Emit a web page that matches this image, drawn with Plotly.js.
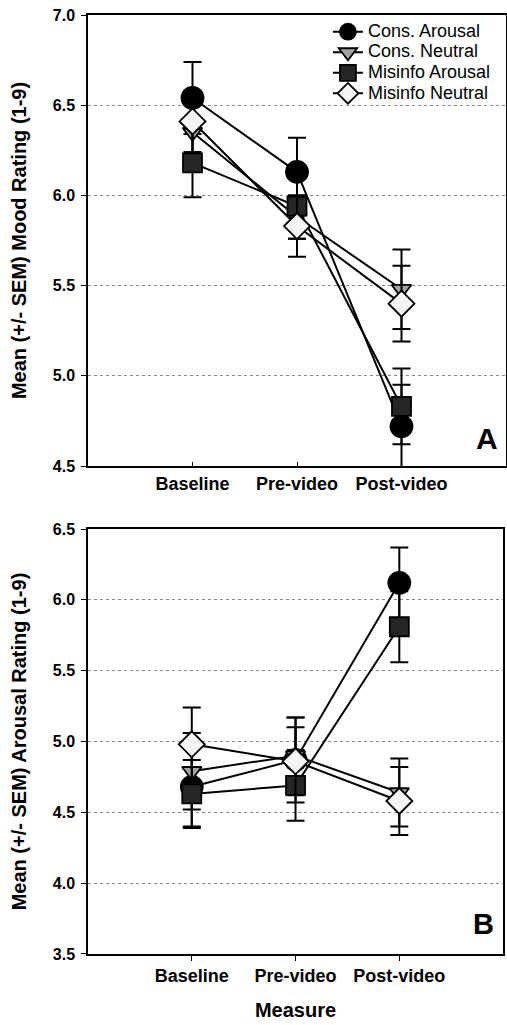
<!DOCTYPE html>
<html><head><meta charset="utf-8">
<script src="https://cdn.plot.ly/plotly-3.0.1.min.js"></script>
<style>html,body{margin:0;padding:0;background:#fff}#chart{width:507px;height:1025px}</style>
</head><body><div id="chart"></div><script>
// ---- data ----
const measures = ["Baseline", "Pre-video", "Post-video"];
const seriesNames = ["Cons. Arousal", "Cons. Neutral", "Misinfo Arousal", "Misinfo Neutral"];

// Panel A: mood rating
const moodConsArousal = [6.54, 6.13, 4.72];
const moodConsArousalSem = [0.20, 0.19, 0.23];
const moodConsNeutral = [6.35, 5.88, 5.48];
const moodConsNeutralSem = [0.18, 0.12, 0.22];
const moodMisArousal = [6.18, 5.94, 4.83];
const moodMisArousalSem = [0.19, 0.18, 0.21];
const moodMisNeutral = [6.41, 5.83, 5.40];
const moodMisNeutralSem = [0.17, 0.17, 0.21];

// Panel B: arousal rating
const arConsArousal = [4.68, 4.87, 6.12];
const arConsArousalSem = [0.28, 0.30, 0.25];
const arConsNeutral = [4.79, 4.90, 4.64];
const arConsNeutralSem = [0.27, 0.27, 0.24];
const arMisArousal = [4.63, 4.69, 5.81];
const arMisArousalSem = [0.24, 0.25, 0.25];
const arMisNeutral = [4.98, 4.86, 4.58];
const arMisNeutralSem = [0.26, 0.24, 0.24];

const moodTickVals = [4.5, 5.0, 5.5, 6.0, 6.5, 7.0];
const arousalTickVals = [3.5, 4.0, 4.5, 5.0, 5.5, 6.0, 6.5];

// ---- styles ----
const symbols = ["circle", "triangle-down", "square", "diamond"];
const fills = ["#000000", "#a3a3a3", "#262626", "#f4f4f4"];
const sizes = [22, 17, 19, 20];
const FONT = "Liberation Sans, Arial, Helvetica, sans-serif";

const moodSets = [[moodConsArousal, moodConsArousalSem], [moodConsNeutral, moodConsNeutralSem],
                  [moodMisArousal, moodMisArousalSem], [moodMisNeutral, moodMisNeutralSem]];
const arSets = [[arConsArousal, arConsArousalSem], [arConsNeutral, arConsNeutralSem],
                [arMisArousal, arMisArousalSem], [arMisNeutral, arMisNeutralSem]];

function mk(set, i, xa, ya, legend) {
  return {
    type: "scatter", mode: "lines+markers",
    x: measures, y: set[0],
    xaxis: xa, yaxis: ya,
    name: '<span style="font-size:18px">' + seriesNames[i] + '</span>',
    showlegend: legend, legendgroup: "g" + i,
    line: {color: "#000", width: 2},
    marker: {symbol: symbols[i], size: sizes[i], color: fills[i], line: {color: "#000", width: 1.8}},
    error_y: {type: "data", array: set[1], visible: true, color: "#000", thickness: 2, width: 9}
  };
}
const traces = [];
moodSets.forEach((s, i) => traces.push(mk(s, i, "x", "y", true)));
arSets.forEach((s, i) => traces.push(mk(s, i, "x2", "y2", false)));

const tickFontX = {family: FONT, size: 18, color: "#000", weight: "bold"};
const tickFontY = {family: FONT, size: 16, color: "#000", weight: "bold"};
const titleFont = {family: FONT, size: 20, color: "#000", weight: "bold"};

const baseY = {
  showline: true, linecolor: "#000", linewidth: 1.5, mirror: true,
  showgrid: true, gridcolor: "#888", griddash: "dot", gridwidth: 1,
  zeroline: false, ticks: "outside", ticklen: 5, tickcolor: "#000",
  tickfont: tickFontY, tickformat: ".1f", ticklabelstandoff: 3
};
const baseX = {
  type: "category", range: [-1, 3],
  showline: true, linecolor: "#000", linewidth: 1.5, mirror: true,
  showgrid: false, zeroline: false, tickcolor: "#000", tickfont: tickFontX
};

const layout = {
  width: 507, height: 1025,
  margin: {l: 88, r: 1, t: 15, b: 71},
  paper_bgcolor: "#fff", plot_bgcolor: "#fff",
  showlegend: true,
  legend: {x: 0.574, y: 0.9985, xanchor: "left", yanchor: "top",
           bgcolor: "rgba(0,0,0,0)", font: {family: FONT, size: 13.5, color: "#000"},
           tracegroupgap: 0},
  xaxis: Object.assign({}, baseX, {domain: [0, 1], anchor: "y", ticks: "inside", ticklen: 4, ticklabelstandoff: 1}),
  yaxis: Object.assign({}, baseY, {domain: [0.5197, 1], anchor: "x", range: [4.5, 7.0], tickvals: moodTickVals,
           title: {text: "Mean (+/- SEM) Mood Rating (1-9)", font: titleFont, standoff: 21}}),
  xaxis2: Object.assign({}, baseX, {domain: [0, 0.993], anchor: "y2", ticks: "outside", ticklen: 5,
           title: {text: "Measure", font: titleFont, standoff: 18}}),
  yaxis2: Object.assign({}, baseY, {domain: [0, 0.4526], anchor: "x2", range: [3.5, 6.5], tickvals: arousalTickVals,
           title: {text: "Mean (+/- SEM) Arousal Rating (1-9)", font: titleFont, standoff: 21}}),
  annotations: [
    {text: "A", xref: "x domain", yref: "y domain", x: 0.955, y: 0.06, xanchor: "center", yanchor: "middle", showarrow: false,
     font: {family: FONT, size: 30, color: "#000", weight: "bold"}},
    {text: "B", xref: "x2 domain", yref: "y2 domain", x: 0.954, y: 0.071, xanchor: "center", yanchor: "middle", showarrow: false,
     font: {family: FONT, size: 29, color: "#000", weight: "bold"}}
  ]
};

Plotly.newPlot("chart", traces, layout, {displayModeBar: false, responsive: false});
</script></body></html>
